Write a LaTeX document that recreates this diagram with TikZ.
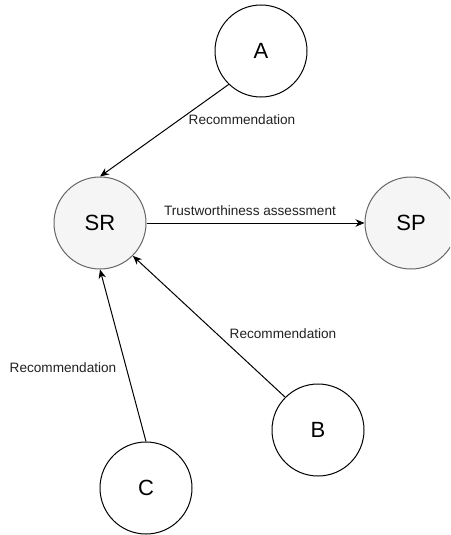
\documentclass[tikz,border=0pt]{standalone}
\usepackage{fontspec}
\setmainfont{Liberation Sans}
\usetikzlibrary{arrows.meta}
\definecolor{partyfill}{HTML}{F5F5F5}
\definecolor{partyline}{HTML}{666666}
\definecolor{labeltext}{HTML}{222222}
\begin{document}
\begin{tikzpicture}[x=1pt,y=-1pt,
  agent/.style={circle,draw=black,fill=white,minimum size=92pt,inner sep=0pt,
    line width=1pt,font=\fontsize{22}{26}\selectfont},
  party/.style={agent,draw=partyline,fill=partyfill},
  link/.style={draw=black,line width=1pt,-{Stealth[length=9pt,width=7.5pt]}},
  lbl/.style={inner sep=0pt,text=labeltext,font=\fontsize{13.6}{16}\selectfont}]
\clip (0,0) rectangle (450,535);
\fill[white] (0,0) rectangle (450,535);

% nodes
\node[agent] (A)  at (261,51)  {A};
\node[party] (SR) at (100,223) {SR};
\node[party] (SP) at (411,223) {SP};
\node[agent] (B)  at (318,430) {B};
\node[agent] (C)  at (146,488) {C};

% connectors
\draw[link] (A.226)   -- (SR.north);
\draw[link] (SR.east) -- (SP.west);
\draw[link] (B.135)   -- (SR.-45);
\draw[link] (C.north) -- (SR.south);

% connector labels
\node[lbl] (lA) at (242,120) {Recommendation};
\node[lbl] (lT) at (250,211) {Trustworthiness assessment};
\node[lbl] (lB) at (283,334) {Recommendation};
\node[lbl] (lC) at (63,368)  {Recommendation};
\end{tikzpicture}
\end{document}
